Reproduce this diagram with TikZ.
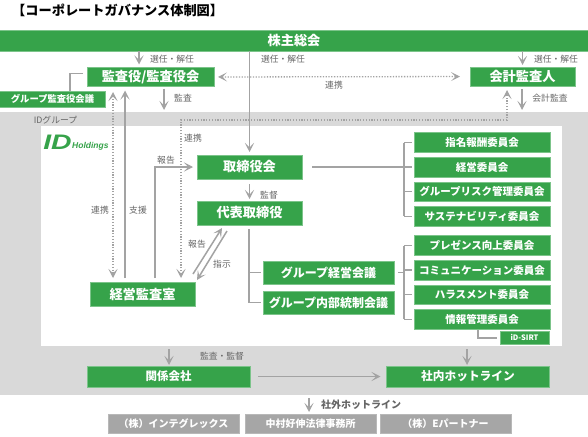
\documentclass[tikz,border=0pt]{standalone}
\usepackage{fontspec}
\setmainfont{Noto Sans CJK JP}
\newfontfamily\logofont{Liberation Sans}
\usetikzlibrary{arrows.meta, positioning, calc}
\definecolor{Leaf}  {HTML}{36A34A}
\definecolor{Rim}   {HTML}{7CC48A}
\definecolor{Band}  {HTML}{D9D9D9}
\definecolor{Wire}  {HTML}{A3A3A3}
\definecolor{Ink}   {HTML}{666666}
\definecolor{Plate} {HTML}{A6A6A6}
\tikzset{
  blk/.style={fill=Leaf, draw=Rim, line width=0.5pt, align=center, text=white, inner sep=0pt,
              outer sep=0pt, font=\fontsize{13.2}{13}\bfseries, minimum height=24pt, minimum width=105pt},
  cmt/.style={blk, font=\fontsize{10.5}{11}\bfseries, minimum height=19.6pt, minimum width=136pt},
  ext/.style={fill=Plate, draw=Plate!80!white, line width=0.5pt, text=white, inner sep=0pt, outer sep=0pt,
              font=\fontsize{10}{10}\bfseries, minimum height=19pt, minimum width=131pt},
  lbl/.style={text=Ink, inner sep=0pt, font=\fontsize{8.8}{9}\selectfont},
  arr/.style={-{Stealth[length=9pt,width=9pt,inset=4.5pt]}, line width=1.5pt, color=Wire},
  dbl/.style={{Stealth[length=9pt,width=9pt,inset=4.5pt]}-{Stealth[length=9pt,width=9pt,inset=4.5pt]},
              line width=1.3pt, color=Wire, dash pattern=on 1.3pt off 1.5pt},
  lin/.style={line width=1.5pt, color=Wire}
}
\begin{document}
\begin{tikzpicture}[x=1pt,y=-1pt]
  \useasboundingbox (0,0) rectangle (588,436);
  \fill[Band] (0,112) rectangle (588,395);
  \fill[white] (41,126) rectangle (562,346);

  \node[anchor=west,inner sep=0pt,font=\fontsize{13.2}{13}\bfseries] (title) at (12,10) {【コーポレートガバナンス体制図】};
  \node[blk,minimum width=590pt,minimum height=21pt] (AGM) at (294,40.5) {株主総会};
  \node[blk,minimum width=127pt,minimum height=19pt] (Audit) at (150.5,77) {監査役/監査役会};
  \node[blk,font=\fontsize{9.3}{9}\bfseries,minimum width=106pt,minimum height=16pt] (GAudit) at (52.5,99) {グループ監査役会議};
  \node[blk,minimum height=19pt] (Acct) at (522.5,76.5) {会計監査人};
  \node[blk] (Board) at (249.5,167) {取締役会};
  \node[blk,below=22pt of Board] (Rep) {代表取締役};
  \node[blk] (Office) at (142.5,294) {経営監査室};
  \node[blk,font=\fontsize{12}{12}\bfseries,minimum width=131pt,minimum height=23.5pt] (GMgmt) at (328.5,272.5) {グループ経営会議};
  \node[blk,font=\fontsize{12}{12}\bfseries,minimum width=131pt,minimum height=23.5pt,below=6.5pt of GMgmt] (GCtrl) {グループ内部統制会議};

  \node[cmt] (C1) at (482,142.5) {指名報酬委員会};
  \node[cmt,below=5pt of C1] (C2) {経営委員会};
  \node[cmt,below=5pt of C2] (C3) {グループリスク管理委員会};
  \node[cmt,below=5pt of C3] (C4) {サステナビリティ委員会};
  \node[cmt] (C5) at (482,245.5) {プレゼンス向上委員会};
  \node[cmt,below=5pt of C5] (C6) {コミュニケーション委員会};
  \node[cmt,below=5pt of C6] (C7) {ハラスメント委員会};
  \node[cmt,below=5pt of C7] (C8) {情報管理委員会};
  \node[blk,font=\fontsize{7.5}{7}\bfseries,minimum width=49pt,minimum height=13pt] (SIRT) at (524.5,337.5) {iD-SIRT};

  \node[blk,font=\fontsize{11.5}{12}\bfseries,minimum width=163pt,minimum height=21pt] (Affil) at (168.5,376.5) {関係会社};
  \node[blk,font=\fontsize{11.7}{12}\bfseries,minimum width=163pt,minimum height=21pt] (Hot) at (468,376.5) {社内ホットライン};
  \node[ext] (E1) at (173.5,423.5) {（株）インテグレックス};
  \node[ext,right=6pt of E1] (E2) {中村好伸法律事務所};
  \node[ext,right=4pt of E2] (E3) {（株）Eパートナー};

  \node[lbl] (group) at (55.5,120) {IDグループ};
  \node[anchor=west,inner sep=0pt,text=Leaf,transform shape,xscale=1.35,font=\logofont\fontsize{21}{21}\bfseries\itshape] (logoA) at (43,142.5) {ID};
  \node[anchor=west,inner sep=0pt,text=Leaf,font=\logofont\fontsize{8.5}{8}\bfseries\itshape] (logoB) at (72,146.5) {Holdings};

  % voting arrows
  \draw[arr,shorten >=3pt] ([xshift=-11.5pt]Audit.north |- AGM.south) -- ([xshift=-11.5pt]Audit.north);
  \draw[arr,shorten >=3pt] (Board.north |- AGM.south) -- (Board.north);
  \draw[arr,shorten >=2pt] (Acct.north |- AGM.south) -- (Acct.north);
  \node[lbl] (v1) at (172,59) {選任・解任};
  \node[lbl] (v2) at (283,59) {選任・解任};
  \node[lbl] (v3) at (556,59) {選任・解任};

  \draw[dbl,shorten <=4pt,shorten >=10pt] (Audit.east) -- (Acct.west);
  \node[lbl] (link1) at (334,85) {連携};
  \coordinate (bandA) at (164,110);
  \coordinate (bandB) at (522,110);
  \draw[arr,shorten <=2pt] (Audit.south -| bandA) -- (bandA);
  \draw[arr,shorten <=3pt] (Acct.south -| bandB) -- (bandB);
  \node[lbl] (aud) at (183,98.5) {監査};
  \node[lbl] (acc) at (550,98.5) {会計監査};
  \draw[lin] (GAudit.north -| 70,0) |- ([xshift=-4pt,yshift=-6pt]Audit.north west);

  % audit office
  \coordinate (dotA) at (113,92);
  \coordinate (dotB) at (113,278);
  \draw[dbl] (dotA) -- (dotB);
  \coordinate (supA) at (125,278);
  \draw[arr,shorten >=4pt] (supA) -- (supA |- Audit.south);
  \coordinate (repA) at (155,278);
  \draw[arr] (repA) |- ([xshift=-4pt]Board.west);
  \coordinate (corner) at (181,120);
  \coordinate (dotC) at (181,278);
  \coordinate (dotD) at (507,90);
  \draw[dbl] (dotC) -- (corner) -- (corner -| dotD) -- (dotD);
  \node[lbl] (link2) at (100,210) {連携};
  \node[lbl] (help) at (138,210) {支援};
  \node[lbl] (rep) at (166,160) {報告};
  \node[lbl] (link3) at (193,138) {連携};

  \draw[arr,shorten <=5pt,shorten >=2pt] (Board) -- (Rep);
  \node[lbl] (sup) at (269,195) {監督};

  \coordinate (diaA) at (193,274);
  \coordinate (diaB) at (222,228);
  \coordinate (diaC) at (227,231);
  \coordinate (diaD) at (197,280);
  \draw[arr] (diaA) -- (diaB);
  \draw[arr] (diaC) -- (diaD);
  \node[lbl] (rep2) at (197,244) {報告};
  \node[lbl] (ins) at (222,264) {指示};

  % committees
  \coordinate (trunkA) at (404,167);
  \draw[lin,shorten <=10pt] (Board.east) -- (Board.east -| trunkA);
  \draw[lin] (trunkA |- C1) -- (trunkA |- C4);
  \foreach \c in {C1,C2,C3,C4}{ \draw[lin,shorten >=2pt] (trunkA |- \c) -- (\c.west); }
  \coordinate (trunkB) at (404,270);
  \draw[lin,shorten <=4pt] (GMgmt.east) -- (GMgmt.east -| trunkB);
  \draw[lin] (trunkB |- C5) -- (trunkB |- C8);
  \foreach \c in {C5,C6,C7,C8}{ \draw[lin,shorten >=2pt] (trunkB |- \c) -- (\c.west); }
  \coordinate (elbow) at (478,338);
  \draw[lin,shorten <=1pt,shorten >=3pt] (C8.south -| elbow) -- (elbow) -- (SIRT.west |- elbow);

  \coordinate (trunkC) at (249,229);
  \draw[lin] (trunkC) |- ([xshift=-2pt]GCtrl.west);
  \draw[lin,shorten >=2pt] (trunkC |- GMgmt.west) -- (GMgmt.west);

  % affiliates
  \coordinate (panelA) at (169,349);
  \coordinate (panelB) at (467,349);
  \draw[arr,shorten >=1pt] (panelA) -- (panelA |- Affil.north);
  \draw[arr,shorten >=1pt] (panelB) -- (panelB |- Hot.north);
  \node[lbl] (aud2) at (222,356) {監査・監督};
  \draw[arr,shorten <=8pt,shorten >=6pt] (Affil.east) -- (Hot.west);
  \coordinate (outerA) at (309,398);
  \draw[arr,shorten >=2pt] (outerA) -- (outerA |- E2.north);
  \node[lbl,font=\fontsize{10}{10}\bfseries] (outer) at (361,405) {社外ホットライン};
\end{tikzpicture}
\end{document}
